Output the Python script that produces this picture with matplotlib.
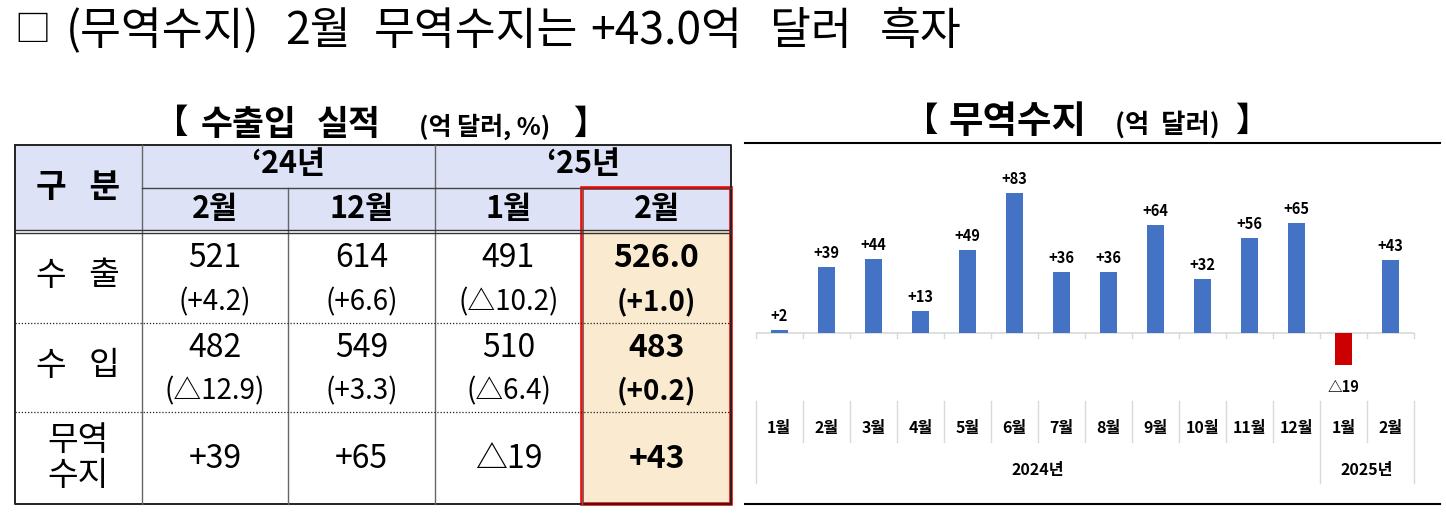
import numpy as np
import matplotlib.pyplot as plt
from matplotlib.patches import Rectangle

plt.rcParams['font.family'] = ['Noto Sans CJK KR', 'DejaVu Sans']

# ---- data ----
title_words = ["□", "(무역수지)", "2월", "무역수지는", "+43.0억", "달러", "흑자"]

tbl_years = ["‘24년", "‘25년"]
tbl_months = ["2월", "12월", "1월", "2월"]
row_labels = ["수   출", "수   입", "무역\n수지"]
export_val = ["521", "614", "491", "526.0"]
export_pct = ["(+4.2)", "(+6.6)", "(△10.2)", "(+1.0)"]
import_val = ["482", "549", "510", "483"]
import_pct = ["(△12.9)", "(+3.3)", "(△6.4)", "(+0.2)"]
balance_val = ["+39", "+65", "△19", "+43"]

months = ["1월", "2월", "3월", "4월", "5월", "6월", "7월",
          "8월", "9월", "10월", "11월", "12월", "1월", "2월"]
balance = [2, 39, 44, 13, 49, 83, 36, 36, 64, 32, 56, 65, -19, 43]
years = ["2024년", "2025년"]
year_span = [(0, 11), (12, 13)]

BLUE = "#4472c4"
RED = "#cc0000"
HEAD = "#dde2f6"
BEIGE = "#faead0"

fig = plt.figure(figsize=(14.46, 5.17), dpi=100)

# overlay in pixel coordinates
ov = fig.add_axes([0, 0, 1, 1])
ov.set_xlim(0, 1446)
ov.set_ylim(517, 0)
ov.axis("off")

# title, word by word to keep the wide spacing
word_x = [14, 66, 285, 374, 590, 770, 880]
word_fs = [26, 32, 32, 32, 32, 32, 32]
for wx, w, fs in zip(word_x, title_words, word_fs):
    ov.text(wx, 31, w, fontsize=fs, va="center", ha="left")

# ---- table ----
xs = [15, 142, 288, 435, 582, 731]
y_top, y_mid, y_hd, y_r1, y_r2, y_bot = 145, 188, 231, 323, 412, 504

ov.text(172, 124, "【", fontsize=24, fontweight="bold", ha="center", va="center")
ov.text(249, 124, "수출입", fontsize=25, fontweight="bold", ha="center", va="center")
ov.text(349, 124, "실적", fontsize=25, fontweight="bold", ha="center", va="center")
ov.text(485, 127, "(억 달러, %)", fontsize=18, fontweight="bold", ha="center", va="center")
ov.text(590, 124, "】", fontsize=24, fontweight="bold", ha="center", va="center")

ov.add_patch(Rectangle((xs[0], y_top), xs[-1] - xs[0], y_hd - y_top,
                       facecolor=HEAD, edgecolor="none"))
ov.add_patch(Rectangle((xs[4], y_hd), xs[5] - xs[4], y_bot - y_hd,
                       facecolor=BEIGE, edgecolor="none"))

# borders
ov.plot([xs[0], xs[-1], xs[-1], xs[0], xs[0]],
        [y_top, y_top, y_bot, y_bot, y_top], color="#222222", lw=1.4)
for x in xs[1:-1]:
    y0 = y_mid if x in (xs[2], xs[4]) else y_top
    ov.plot([x, x], [y0, y_bot], color="#666666", lw=1.0)
ov.plot([xs[1], xs[-1]], [y_mid, y_mid], color="#444444", lw=1.0)
ov.plot([xs[0], xs[-1]], [y_hd - 1.5, y_hd - 1.5], color="#333333", lw=1.0)
ov.plot([xs[0], xs[-1]], [y_hd + 1.5, y_hd + 1.5], color="#333333", lw=1.0)
for y in (y_r1, y_r2):
    ov.plot([xs[0], xs[-1]], [y, y], color="#222222", lw=0.9, ls=(0, (1, 1.5)))
ov.add_patch(Rectangle((xs[4], y_mid), xs[5] - xs[4], y_bot - y_mid,
                       facecolor="none", edgecolor="#ff0000", lw=2.6))

# header text
ov.text((xs[0] + xs[1]) / 2, 188, "구   분", fontsize=24, fontweight="bold",
        ha="center", va="center")
ov.text((xs[1] + xs[3]) / 2, 164, tbl_years[0], fontsize=22, fontweight="bold",
        ha="center", va="center")
ov.text((xs[3] + xs[5]) / 2, 164, tbl_years[1], fontsize=22, fontweight="bold",
        ha="center", va="center")
for i, m in enumerate(tbl_months):
    ov.text((xs[i + 1] + xs[i + 2]) / 2, 209, m, fontsize=22, fontweight="bold",
            ha="center", va="center")

# body text
ov.text(78, 276, row_labels[0], fontsize=24, ha="center", va="center")
ov.text(78, 366, row_labels[1], fontsize=24, ha="center", va="center")
ov.text(78, 458, row_labels[2], fontsize=24, ha="center", va="center",
        linespacing=1.0)
for i in range(4):
    cx = (xs[i + 1] + xs[i + 2]) / 2
    fw = "bold" if i == 3 else "normal"
    ov.text(cx, 258, export_val[i], fontsize=23, fontweight=fw, ha="center", va="center")
    ov.text(cx, 302, export_pct[i], fontsize=20, fontweight=fw, ha="center", va="center")
    ov.text(cx, 348, import_val[i], fontsize=23, fontweight=fw, ha="center", va="center")
    ov.text(cx, 391, import_pct[i], fontsize=20, fontweight=fw, ha="center", va="center")
    ov.text(cx, 459, balance_val[i], fontsize=23, fontweight=fw, ha="center", va="center")

# ---- bar chart ----
ov.text(922, 121, "【", fontsize=24, fontweight="bold", ha="center", va="center")
ov.text(1017, 121, "무역수지", fontsize=27, fontweight="bold", ha="center", va="center")
ov.text(1167, 125, "(억  달러)", fontsize=19, fontweight="bold", ha="center", va="center")
ov.text(1252, 121, "】", fontsize=24, fontweight="bold", ha="center", va="center")
ov.plot([745, 1440], [143, 143], color="black", lw=1.5)
ov.plot([745, 1440], [504, 504], color="black", lw=1.5)

left, right, top, bottom = 755.7, 1414, 150, 395
ax = fig.add_axes([left / 1446, (517 - bottom) / 517,
                   (right - left) / 1446, (bottom - top) / 517])
ax.set_xlim(-0.5, len(balance) - 0.5)
ax.set_ylim(-36.7, 108.3)
ax.axis("off")

x = np.arange(len(balance))
colors = [BLUE if v >= 0 else RED for v in balance]
ax.bar(x, balance, width=0.37, color=colors, zorder=2)
ax.axhline(0, color="#d9d9d9", lw=1.2, zorder=1)
for xi, v in zip(x, balance):
    if v >= 0:
        ax.annotate(f"+{v}", (xi, v), xytext=(0, 10), textcoords="offset points",
                    ha="center", va="center", fontsize=10.5, fontweight="bold")
    else:
        ax.annotate(f"△{abs(v)}", (xi, v), xytext=(0, -16), textcoords="offset points",
                    ha="center", va="center", fontsize=10.5, fontweight="bold")

tr = ax.get_xaxis_transform()
h = bottom - top
for k in range(len(balance) + 1):
    xb = k - 0.5
    ax.plot([xb, xb], [0, -3], color="#d9d9d9", lw=1.0, clip_on=False)
    long_line = k in (0, 12, len(balance))
    y_end = -(483 - bottom) / h if long_line else -(442 - bottom) / h
    ax.plot([xb, xb], [-(401 - bottom) / h, y_end], transform=tr,
            color="#d9d9d9", lw=1.0, clip_on=False)
for xi, m in zip(x, months):
    ax.text(xi, -(428 - bottom) / h, m, transform=tr, ha="center", va="center",
            fontsize=11.5, fontweight="bold")
for (a, b), yl in zip(year_span, years):
    ax.text((a + b) / 2, -(470 - bottom) / h, yl, transform=tr, ha="center",
            va="center", fontsize=11.5, fontweight="bold")

fig.savefig("out.png", dpi=100)
